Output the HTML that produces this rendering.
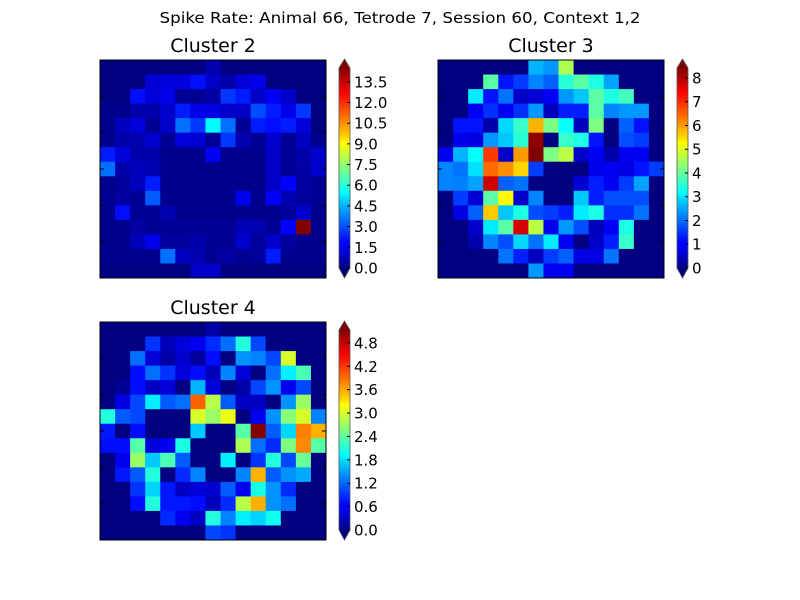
<!DOCTYPE html>
<html><head><meta charset="utf-8"><style>
html,body{margin:0;padding:0;background:#fff;}
svg{display:block;font-family:"DejaVu Sans","Liberation Sans",sans-serif;}
</style></head><body>
<svg id="fig" width="800" height="600" viewBox="0 0 800 600" xmlns="http://www.w3.org/2000/svg">
<rect width="800" height="600" fill="#fff"/>
<defs>
<linearGradient id="jetg" x1="0" y1="1" x2="0" y2="0">
<stop offset="0" stop-color="#000080"/><stop offset="0.11" stop-color="#0000ff"/><stop offset="0.125" stop-color="#0000ff"/>
<stop offset="0.34" stop-color="#00d0ff"/><stop offset="0.375" stop-color="#00ffff"/><stop offset="0.5" stop-color="#80ff80"/>
<stop offset="0.625" stop-color="#ffff00"/><stop offset="0.66" stop-color="#ffd000"/><stop offset="0.875" stop-color="#ff0000"/><stop offset="0.9" stop-color="#e80000"/><stop offset="1" stop-color="#800000"/>
</linearGradient>
</defs>
<text x="400" y="23" text-anchor="middle" font-size="15" textLength="481" lengthAdjust="spacingAndGlyphs">Spike Rate: Animal 66, Tetrode 7, Session 60, Context 1,2</text>
<g id="plots"></g>
</svg>
<script>
const c2 = [
[0,0,0,0,0,0,0,0.7,0,0,0,0,0,0,0],
[0,0,0,1.2,1.3,1.3,2.0,1.0,0.6,1.3,1.5,0,0,0,0],
[0,0,2.0,1.3,1.5,0.3,0.3,0.5,2.6,2.2,1.0,1.7,1.0,0,0],
[0.2,0.2,0.6,0.6,1.1,2.2,1.5,1.4,1.0,1.0,2.9,2.2,1.5,2.6,0],
[0.2,0.9,1.3,0.3,1.1,3.4,2.6,5.4,3.4,0.3,2.2,2.0,2.2,1.3,0],
[0.2,0.6,0.7,1.1,0.3,1.3,1.2,0.3,2.6,0.7,0.3,1.1,0.3,0.9,0.2],
[2.2,1.3,0.6,0.6,0.2,0.2,0.2,1.7,0.2,0.2,0.2,1.0,0.3,0.6,1.1],
[3.4,0.6,0.9,0.7,0.2,0.2,0.2,0.2,0.2,0.2,0.2,1.0,0.3,0.5,1.1],
[0.2,0.4,0.9,2.2,0.2,0.2,0.2,0.2,0.2,0.2,0.2,1.0,1.8,0.5,0.3],
[0.3,0.5,0.3,3.1,0.2,0.2,0.2,0.2,0.2,1.6,0.2,1.7,0.7,0.4,0.3],
[0.2,2.0,0.3,0.3,0.7,0.2,0.2,0.2,0.2,0.2,0.2,0.2,0.4,1.1,0.2],
[0.2,0.2,0.5,0.3,0.3,0.3,0.3,0.3,0.3,0.8,0.7,0.3,1.8,14.5,0.2],
[0.2,0.2,0.8,1.5,0.4,0.4,0.6,0.3,0.3,1.1,0.4,1.1,0.4,0.2,0.2],
[0.2,0.2,0.2,0.2,3.4,0.9,0.7,0.3,0.5,0.3,0.4,2.2,0.2,0.2,0.2],
[0,0,0,0,0,0,1.0,1.0,0,0,0,0,0,0,0]];
const c3 = [
[0,0,0,0,0,0,2.55,2.3,4.6,0,0,0,0,0,0],
[0,0,0,3.9,1.2,1.55,2.15,1.85,3.5,3.9,3.4,2.4,0,0,0],
[0,0,3.0,1.2,2.0,0.6,0.7,0.95,2.3,2.7,3.9,3.4,3.7,0,0],
[0,0,0.95,1.45,0.95,1.45,2.3,0.5,1.3,1.3,3.9,2.15,2.3,2.3,0],
[0,1.2,1.2,0.35,2.85,3.6,5.9,4.2,3.2,0.5,4.2,0,1.85,1.2,0],
[0,0.9,0.8,2.3,2.7,3.5,8.3,0,3.6,3.4,1.2,0,1.7,1.55,0],
[0.95,2.55,3.2,6.9,0.6,6.1,8.42,4.2,4.7,0.6,0.95,0.35,0.95,0.95,0],
[2.15,2.0,2.9,6.5,6.2,5.6,1.55,0,0,0,0.9,0.95,0.8,1.2,1.55],
[2.15,2.1,2.4,7.75,1.85,2.0,0,0,0,0.7,1.3,0.95,1.55,2.4,0],
[0,1.55,0.7,3.9,5.3,0.6,2.15,0,0,2.7,1.3,1.7,1.7,1.7,0],
[0,0.8,1.85,5.7,2.7,3.4,1.7,1.55,1.3,3.0,3.4,1.45,1.45,2.0,0],
[0,0,0.6,3.0,3.9,7.7,4.7,0.9,2.3,1.7,0.5,0.95,3.4,0,0],
[0,0,0.4,2.15,1.7,2.85,2.0,3.0,0.95,0,0.6,1.3,3.6,0,0],
[0,0,0,0,2.0,1.3,0.5,1.55,1.85,0.8,0.8,2.0,0,0,0],
[0,0,0,0,0,0,2.3,0.95,0.95,0,0,0,0,0,0]];
const c4 = [
[0,0,0,0,0,0,0,0.2,0,0,0,0,0,0,0],
[0,0,0,0.9,0.3,0.45,0.56,0.85,1.2,2.1,1.0,0,0,0,0],
[0,0,1.2,0.45,0.2,0.4,0.15,0.7,0,1.38,1.3,1.0,3.0,0,0],
[0,0,0.7,1.2,0.9,0.45,0.7,0.3,1.3,0.45,0,1.2,1.85,2.3,0],
[0,0.12,0.7,0.35,0.45,0,1.55,0.45,0,0.2,1.0,1.38,0.56,1.0,0],
[0,0.5,1.0,1.85,1.1,1.2,4.0,2.85,1.1,0.35,0.35,0,1.38,2.7,0],
[2.1,1.1,1.0,0,0,0,3.0,2.7,3.1,0,0.56,1.38,2.6,3.0,1.3],
[0.75,0,0.7,0,0,0,1.65,0,0,2.35,5.1,1.1,1.72,3.85,3.6],
[0.7,0.7,2.35,0.45,0.56,2.05,0,0,0,2.8,1.2,0.85,2.55,3.8,2.35],
[0,0.56,2.7,1.65,2.3,1.1,0,0,1.85,0,0.9,2.1,1.0,2.45,0],
[0,0.75,1.1,2.1,0,0.85,1.3,0,0,1.3,3.6,1.1,1.38,1.5,0],
[0,0,0.9,1.72,0.75,0.35,0.45,0.4,1.1,0.56,2.05,1.38,0.85,0,0],
[0,0,0.7,2.1,0.75,0.75,0.7,0.3,0.85,2.85,3.6,1.38,1.2,0,0],
[0,0,0,0,0.85,0.56,0.35,2.1,1.3,1.85,1.7,2.0,0,0,0],
[0,0,0,0,0,0,0,1.0,0.9,0,0,0,0,0,0]];
const vmax2 = 14.5, vmax3 = 8.42, vmax4 = 5.13;
const ticks2 = [0,1.5,3,4.5,6,7.5,9,10.5,12,13.5];
const tickLabels2 = ["0.0","1.5","3.0","4.5","6.0","7.5","9.0","10.5","12.0","13.5"];
const ticks3 = [0,1,2,3,4,5,6,7,8];
const tickLabels3 = ["0","1","2","3","4","5","6","7","8"];
const ticks4 = [0,0.6,1.2,1.8,2.4,3.0,3.6,4.2,4.8];
const tickLabels4 = ["0.0","0.6","1.2","1.8","2.4","3.0","3.6","4.2","4.8"];
const titles = ["Cluster 2","Cluster 3","Cluster 4"];

const NS = "http://www.w3.org/2000/svg";
function mk(tag, attrs, parent){const e=document.createElementNS(NS,tag);for(const k in attrs)e.setAttribute(k,attrs[k]);parent.appendChild(e);return e;}
function jet(f){
  f=Math.max(0,Math.min(1,f));
  const ch=(x)=>Math.max(0,Math.min(1,1.5-Math.abs(4*f-x)));
  const r=ch(3),g=ch(2),b=ch(1);
  return "rgb("+Math.round(r*255)+","+Math.round(g*255)+","+Math.round(b*255)+")";
}
const root=document.getElementById("plots");
function panel(data,vmax,ticks,labels,title,px,py,cbx,idx){
  const W=226,H=218,n=data.length,m=data[0].length;
  const xs=(c)=>px+c*W/m, ys=(r)=>py+r*H/n;
  const g=mk("g",{},root);
  
  
  for(let r=0;r<n;r++)for(let c=0;c<m;c++){
    const cell=mk("rect",{x:xs(c),y:ys(r),width:W/m+0.4,height:H/n+0.4,fill:jet(data[r][c]/vmax)},g);
    
    
  }
  const fr=mk("rect",{x:px,y:py,width:W,height:H,fill:"none",stroke:"#000","stroke-width":1},g);
  
  
  for(let k=1;k<6;k++){
    const yy=py+k*H/6;
    mk("line",{x1:px,x2:px+4,y1:yy,y2:yy,stroke:"#000"},g);
    mk("line",{x1:px+W-4,x2:px+W,y1:yy,y2:yy,stroke:"#000"},g);
  }
  const t=mk("text",{x:px+W/2,y:py-8,"text-anchor":"middle","font-size":19},g);
  t.textContent=title;
  
  
  const cy0=py+8, ch=200, cw=11;
  const cs=(v)=>cy0+ch-v/vmax*ch;
  const cb=mk("g",{},root);
  
  
  mk("rect",{x:cbx,y:cy0,width:cw,height:ch,fill:"url(#jetg)"},cb);
  mk("polygon",{points:cbx+","+cy0+" "+(cbx+cw/2)+","+(cy0-9)+" "+(cbx+cw)+","+cy0,fill:"#800000"},cb);
  mk("polygon",{points:cbx+","+(cy0+ch)+" "+(cbx+cw/2)+","+(cy0+ch+10)+" "+(cbx+cw)+","+(cy0+ch),fill:"#000080"},cb);
  mk("polygon",{points:cbx+","+cy0+" "+(cbx+cw/2)+","+(cy0-9)+" "+(cbx+cw)+","+cy0+" "+(cbx+cw)+","+(cy0+ch)+" "+(cbx+cw/2)+","+(cy0+ch+10)+" "+cbx+","+(cy0+ch),fill:"none",stroke:"#555","stroke-width":0.8},cb);
  for(let i=0;i<ticks.length;i++){
    const yy=cs(ticks[i]);
    mk("line",{x1:cbx+cw-3,x2:cbx+cw,y1:yy,y2:yy,stroke:"#000"},cb);
    const lt=mk("text",{x:cbx+cw+4,y:yy+5.5,"font-size":15},cb);
    lt.textContent=labels[i];
    
    
  }
}
panel(c2,vmax2,ticks2,tickLabels2,titles[0],100,60,339,2);
panel(c3,vmax3,ticks3,tickLabels3,titles[1],438,60,677,3);
panel(c4,vmax4,ticks4,tickLabels4,titles[2],100,322,339,4);
</script>
</body></html>
